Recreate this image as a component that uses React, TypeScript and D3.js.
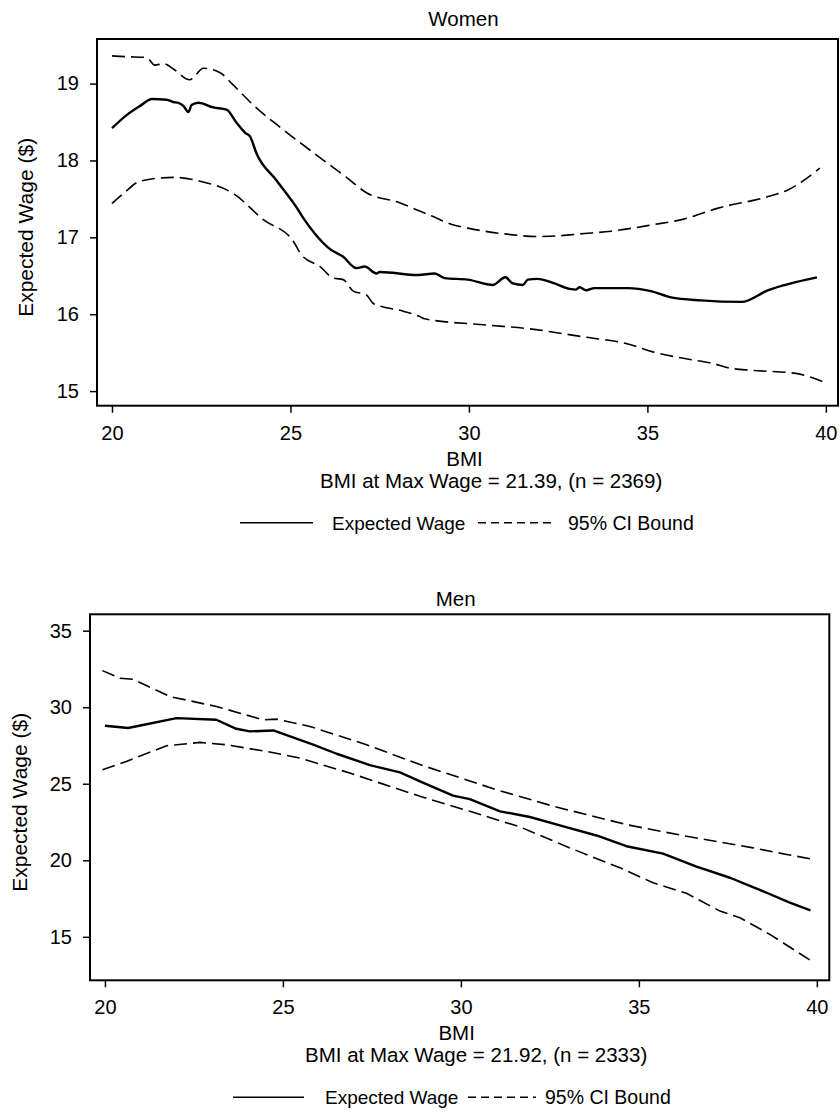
import React, { useRef, useEffect } from 'react';
import * as d3 from 'd3';

// [BMI, expected wage] pairs
const womenWage: [number, number][] = [
  [20.0, 18.42], [20.41, 18.59], [20.79, 18.71], [21.12, 18.8], [21.53, 18.79], [21.72, 18.76],
  [21.86, 18.75], [22.0, 18.71], [22.14, 18.63], [22.23, 18.72], [22.42, 18.75], [22.84, 18.69],
  [23.21, 18.66], [23.49, 18.49], [23.73, 18.36], [23.87, 18.31], [24.05, 18.09], [24.61, 17.74],
  [25.17, 17.39], [25.39, 17.23], [25.68, 17.05], [26.1, 16.85], [26.47, 16.75], [26.85, 16.6],
  [27.08, 16.62], [27.41, 16.53], [27.5, 16.55], [28.57, 16.51], [29.04, 16.53], [29.32, 16.47],
  [29.97, 16.45], [30.67, 16.38], [31.02, 16.48], [31.23, 16.4], [31.51, 16.38], [31.65, 16.45],
  [31.91, 16.46], [32.4, 16.4], [32.82, 16.33], [33.0, 16.32], [33.1, 16.35], [33.28, 16.31],
  [33.52, 16.34], [34.45, 16.34], [35.1, 16.3], [35.66, 16.22], [36.5, 16.18], [37.64, 16.16],
  [38.37, 16.31], [39.75, 16.48],
];
const womenUpper: [number, number][] = [
  [20.0, 19.36], [20.41, 19.35], [20.97, 19.34], [21.2, 19.24], [21.44, 19.26], [21.72, 19.19],
  [22.18, 19.05], [22.32, 19.1], [22.56, 19.2], [23.03, 19.14], [23.4, 18.98], [23.96, 18.72],
  [24.8, 18.4], [25.73, 18.07], [26.57, 17.78], [27.13, 17.58], [28.06, 17.45], [28.53, 17.36],
  [29.0, 17.27], [29.5, 17.17], [29.97, 17.12], [30.9, 17.05], [32.02, 17.01], [33.24, 17.05],
  [33.98, 17.08], [35.1, 17.16], [36.04, 17.24], [36.98, 17.38], [38.38, 17.53], [38.95, 17.62],
  [39.83, 17.9],
];
const womenLower: [number, number][] = [
  [20.0, 17.44], [20.32, 17.57], [20.79, 17.73], [21.72, 17.78], [22.47, 17.73], [23.4, 17.57],
  [24.24, 17.23], [25.08, 16.95], [25.31, 16.77], [25.83, 16.62], [26.2, 16.47], [26.48, 16.45],
  [26.76, 16.3], [27.13, 16.25], [27.32, 16.14], [28.16, 16.04], [28.62, 15.97], [28.76, 15.94],
  [30.48, 15.86], [31.69, 15.81], [33.28, 15.7], [34.4, 15.62], [35.15, 15.51], [36.08, 15.42],
  [36.83, 15.36], [37.29, 15.3], [37.94, 15.27], [39.16, 15.23], [39.93, 15.12],
];

const menWage: [number, number][] = [
  [20.0, 28.79], [20.65, 28.64], [22.01, 29.29], [23.13, 29.18], [23.69, 28.59], [24.07, 28.42],
  [24.73, 28.48], [25.85, 27.55], [26.51, 26.96], [27.44, 26.22], [28.29, 25.74], [28.85, 25.16],
  [29.78, 24.22], [30.25, 24.0], [31.1, 23.2], [31.94, 22.83], [32.88, 22.22], [33.81, 21.62],
  [34.65, 20.92], [35.68, 20.44], [36.62, 19.58], [37.56, 18.86], [38.59, 17.88], [39.24, 17.23],
  [39.82, 16.73],
];
const menUpper: [number, number][] = [
  [19.93, 32.39], [20.42, 31.89], [20.79, 31.83], [21.82, 30.7], [23.13, 30.05], [24.44, 29.18],
  [24.82, 29.22], [25.76, 28.74], [27.35, 27.55], [28.85, 26.25], [31.0, 24.61], [32.6, 23.53],
  [34.65, 22.33], [36.34, 21.57], [38.21, 20.81], [39.15, 20.38], [39.94, 20.05],
];
const menLower: [number, number][] = [
  [19.93, 25.92], [20.6, 26.46], [21.73, 27.48], [22.67, 27.7], [23.41, 27.55], [24.54, 27.11],
  [25.48, 26.68], [26.88, 25.7], [28.85, 24.18], [30.25, 23.2], [31.66, 22.18], [33.06, 20.81],
  [34.47, 19.51], [35.4, 18.53], [36.34, 17.84], [37.28, 16.68], [37.84, 16.25], [38.68, 15.16],
  [39.8, 13.49],
];

const bmiTicks = [20, 25, 30, 35, 40];
const womenTicks = [15, 16, 17, 18, 19];
const menTicks = [15, 20, 25, 30, 35];

const FONT = '"Liberation Sans", Arial, Helvetica, sans-serif';

const App = () => {
  const svgRef = useRef<SVGSVGElement>(null);

  useEffect(() => {
    const svg = d3.select(svgRef.current);
    svg.selectAll('*').remove();

    const panels = [
      {
        title: 'Women', note: 'BMI at Max Wage = 21.39, (n = 2369)',
        left: 97, right: 838, top: 39, bottom: 405.7,
        xDomain: [19.58, 40.34], yDomain: [14.81, 19.58], yTicks: womenTicks,
        wage: womenWage, upper: womenUpper, lower: womenLower, curve: d3.curveMonotoneX,
        titleY: 26, yLabelX: 33, noteX: 320,
        legend: { solid: [240, 313], text1: 332, dashed: [478, 555], text2: 568 },
      },
      {
        title: 'Men', note: 'BMI at Max Wage = 21.92, (n = 2333)',
        left: 90, right: 829.3, top: 614.3, bottom: 980.3,
        xDomain: [19.58, 40.35], yDomain: [12.16, 36.07], yTicks: menTicks,
        wage: menWage, upper: menUpper, lower: menLower, curve: d3.curveLinear,
        titleY: 606, yLabelX: 27, noteX: 305,
        legend: { solid: [233, 304], text1: 325, dashed: [468, 536], text2: 545 },
      },
    ];

    panels.forEach((p) => {
      const g = svg.append('g');
      const x = d3.scaleLinear().domain(p.xDomain).range([p.left, p.right]);
      const y = d3.scaleLinear().domain(p.yDomain).range([p.bottom, p.top]);
      const cx = (p.left + p.right) / 2;

      g.append('text')
        .attr('x', cx - 4).attr('y', p.titleY)
        .attr('text-anchor', 'middle')
        .style('font-size', '20.5px')
        .text(p.title);

      const xAxis = g.append('g')
        .attr('transform', `translate(0, ${p.bottom})`)
        .call(d3.axisBottom(x).tickValues(bmiTicks).tickSize(7).tickPadding(13).tickSizeOuter(0)
          .tickFormat(d3.format('d')));
      const yAxis = g.append('g')
        .attr('transform', `translate(${p.left}, 0)`)
        .call(d3.axisLeft(y).tickValues(p.yTicks).tickSize(7).tickPadding(11).tickSizeOuter(0)
          .tickFormat(d3.format('d')));

      [xAxis, yAxis].forEach((axis) => {
        axis.select('.domain').remove();
        axis.selectAll('.tick line').attr('stroke', '#000').attr('stroke-width', 1.5);
        axis.selectAll('.tick text')
          .attr('fill', '#000')
          .style('font-size', '20px')
          .style('font-family', FONT);
      });

      g.append('rect')
        .attr('x', p.left).attr('y', p.top)
        .attr('width', p.right - p.left).attr('height', p.bottom - p.top)
        .attr('fill', 'none').attr('stroke', '#000').attr('stroke-width', 2);

      g.append('text')
        .attr('transform', `translate(${p.yLabelX}, ${(p.top + p.bottom) / 2 + 5}) rotate(-90)`)
        .attr('text-anchor', 'middle')
        .style('font-size', '21px')
        .text('Expected Wage ($)');

      const line = d3.line<[number, number]>()
        .x((d) => x(d[0]))
        .y((d) => y(d[1]))
        .curve(p.curve);

      [p.upper, p.lower].forEach((s) => {
        g.append('path')
          .attr('d', line(s))
          .attr('fill', 'none').attr('stroke', '#000')
          .attr('stroke-width', 1.6)
          .attr('stroke-dasharray', '13,6');
      });
      g.append('path')
        .attr('d', line(p.wage))
        .attr('fill', 'none').attr('stroke', '#000')
        .attr('stroke-width', 2.4)
        .attr('stroke-linejoin', 'round');

      g.append('text')
        .attr('x', cx - 3).attr('y', p.bottom + 60)
        .attr('text-anchor', 'middle')
        .style('font-size', '20.5px')
        .text('BMI');

      g.append('text')
        .attr('x', p.noteX).attr('y', p.bottom + 82)
        .style('font-size', '20.5px')
        .text(p.note);

      const ly = p.bottom + 117;
      const lg = p.legend;
      g.append('line')
        .attr('x1', lg.solid[0]).attr('x2', lg.solid[1])
        .attr('y1', ly).attr('y2', ly)
        .attr('stroke', '#000').attr('stroke-width', 1.6);
      g.append('text')
        .attr('x', lg.text1).attr('y', ly + 7)
        .style('font-size', '19px')
        .text('Expected Wage');
      g.append('line')
        .attr('x1', lg.dashed[0]).attr('x2', lg.dashed[1])
        .attr('y1', ly).attr('y2', ly)
        .attr('stroke', '#000').attr('stroke-width', 1.4)
        .attr('stroke-dasharray', '8,5');
      g.append('text')
        .attr('x', lg.text2).attr('y', ly + 7)
        .style('font-size', '19.5px')
        .text('95% CI Bound');
    });
  }, []);

  return (
    <svg
      ref={svgRef}
      width={840}
      height={1114}
      style={{ position: 'absolute', left: 0, top: 0, background: '#fff', fontFamily: FONT }}
    />
  );
};

export default App;
